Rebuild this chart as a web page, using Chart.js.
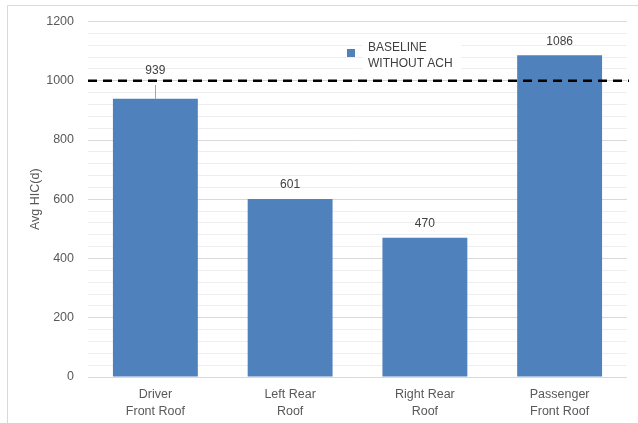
<!DOCTYPE html>
<html>
<head>
<meta charset="utf-8">
<script src="https://cdn.jsdelivr.net/npm/chart.js@4.4.1/dist/chart.umd.min.js"></script>
<style>
  html, body { margin: 0; padding: 0; background: #fff; }
  #wrap { width: 638px; height: 423px; position: relative; }
</style>
</head>
<body>
<div id="wrap"><canvas id="hicChart" width="638" height="423"></canvas></div>
<script>
// Chart data
const categories = [['Driver', 'Front Roof'], ['Left Rear', 'Roof'], ['Right Rear', 'Roof'], ['Passenger', 'Front Roof']];
const avgHic = [939, 601, 470, 1086];
const errorPlus = [47, 0, 0, 0];
const seriesLabel = ['BASELINE', 'WITHOUT ACH'];
const thresholdValue = 1000;
const yTickLabels = [0, 200, 400, 600, 800, 1000, 1200];

const barColor = '#4f81bd';
const textColor = '#595959';
const fontFamily = '"Liberation Sans", Arial, sans-serif';

// Frame around the chart (light grey left/top edge)
const framePlugin = {
  id: 'frame',
  beforeDraw(chart) {
    const c = chart.ctx;
    c.save();
    c.fillStyle = '#fff';
    c.fillRect(0, 0, chart.width, chart.height);
    c.strokeStyle = '#d9d9d9';
    c.lineWidth = 1;
    c.beginPath();
    c.moveTo(7.5, chart.height);
    c.lineTo(7.5, 5.5);
    c.lineTo(chart.width, 5.5);
    c.stroke();
    c.restore();
  }
};

// Error bars, dashed threshold line, value labels, legend
const overlayPlugin = {
  id: 'overlay',
  afterDatasetsDraw(chart) {
    const c = chart.ctx;
    const y = chart.scales.y;
    const meta = chart.getDatasetMeta(0);
    const area = chart.chartArea;

    // error bars
    c.save();
    c.strokeStyle = '#a6a6a6';
    c.lineWidth = 1;
    meta.data.forEach((bar, i) => {
      if (!errorPlus[i]) return;
      const x = Math.round(bar.x) + 0.5;
      c.beginPath();
      c.moveTo(x, y.getPixelForValue(avgHic[i]));
      c.lineTo(x, y.getPixelForValue(avgHic[i] + errorPlus[i]));
      c.stroke();
    });
    c.restore();

    // threshold line
    const ty = y.getPixelForValue(thresholdValue);
    c.save();
    c.strokeStyle = '#000';
    c.lineWidth = 2.5;
    c.setLineDash([9, 6]);
    c.beginPath();
    c.moveTo(area.left, ty);
    c.lineTo(area.right + 2, ty);
    c.stroke();
    c.restore();

    // value labels
    c.save();
    c.fillStyle = '#404040';
    c.font = '12px ' + fontFamily;
    c.textAlign = 'center';
    c.textBaseline = 'middle';
    meta.data.forEach((bar, i) => {
      const top = y.getPixelForValue(avgHic[i] + errorPlus[i]);
      c.fillText(String(avgHic[i]), bar.x, top - 14);
    });
    c.restore();

    // legend inside plot
    c.save();
    c.fillStyle = '#fff';
    c.fillRect(363, 38, 98, 35);
    c.fillStyle = barColor;
    c.fillRect(347, 49, 8, 8);
    c.fillStyle = '#404040';
    c.font = '12px ' + fontFamily;
    c.textAlign = 'left';
    c.textBaseline = 'middle';
    c.fillText(seriesLabel[0], 368, 48);
    c.fillText(seriesLabel[1], 368, 64);
    c.restore();
  }
};

const ctx = document.getElementById('hicChart').getContext('2d');

const hicChart = new Chart(ctx, {
  type: 'bar',
  data: {
    labels: categories,
    datasets: [{
      label: seriesLabel.join(' '),
      data: avgHic,
      backgroundColor: barColor,
      borderWidth: 0,
      categoryPercentage: 1,
      barPercentage: 0.63
    }]
  },
  options: {
    responsive: false,
    animation: false,
    devicePixelRatio: 1,
    layout: { padding: { left: 0, top: 20, right: 11, bottom: 0 } },
    plugins: {
      legend: { display: false },
      tooltip: { enabled: false }
    },
    scales: {
      x: {
        grid: { display: false, drawTicks: false },
        border: { display: false },
        ticks: {
          color: textColor,
          font: { family: fontFamily, size: 12.5, lineHeight: 1.35 },
          padding: 9,
          maxRotation: 0
        },
        afterFit(scale) { scale.height = 46; }
      },
      y: {
        min: 0,
        max: 1200,
        border: { display: false },
        grid: {
          drawTicks: false,
          color: c => (yTickLabels.includes(c.tick.value) ? '#d9d9d9' : '#eeeeee'),
          lineWidth: 1
        },
        ticks: {
          stepSize: 40,
          autoSkip: false,
          color: textColor,
          padding: 14,
          font: { family: fontFamily, size: 12.5 },
          callback: v => (yTickLabels.includes(v) ? String(v) : '')
        },
        title: {
          display: true,
          text: 'Avg HIC(d)',
          color: textColor,
          font: { family: fontFamily, size: 12.5 },
          padding: { top: 28, bottom: 0 }
        },
        afterFit(scale) { scale.width = 88; }
      }
    }
  },
  plugins: [framePlugin, overlayPlugin]
});
</script>
</body>
</html>
